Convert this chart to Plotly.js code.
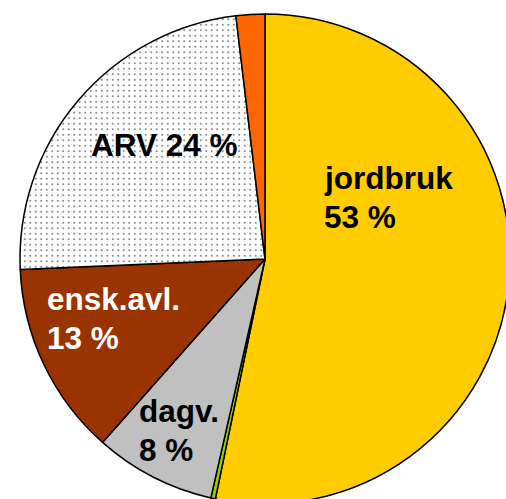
<!DOCTYPE html>
<html>
<head>
<meta charset="utf-8">
<script src="https://cdn.plot.ly/plotly-3.0.1.min.js"></script>
<style>
html,body{margin:0;padding:0;overflow:hidden;background:#fff;width:506px;height:499px;}
#chart{width:530px;height:520px;}
</style>
</head>
<body>
<div id="chart"></div>
<script>
// Data
const categories = ["jordbruk", "övrigt", "dagv.", "ensk.avl.", "ARV", "annat"];
const shares = [53.3, 0.3, 8.0, 12.8, 23.8, 1.9];
const sliceColors = ["#FFCC00", "#99CC00", "#C0C0C0", "#993300", "#FFFFFF", "#FF6600"];
const slicePatterns = ["", "", "", "", ".", ""];
const labelLines = [
  ["jordbruk", "53 %"],
  ["ARV 24 %"],
  ["ensk.avl.", "13 %"],
  ["dagv.", "8 %"]
];
const labelColors = ["#000000", "#000000", "#FFFFFF", "#000000"];

// Layout geometry (pixels)
const W = 530, H = 520, mL = 20, mR = 20, mT = 14, mB = 16;
const pw = W - mL - mR, ph = H - mT - mB;
const px2x = p => (p - mL) / pw;
const py2y = p => (H - mB - p) / ph;

// label anchor positions (left x, line centres y) in pixels
const labelPos = [
  {x: 322, y: [178, 217]},
  {x: 89, y: [145]},
  {x: 45, y: [299, 338]},
  {x: 137, y: [411, 450]}
];

const annotations = [];
labelLines.forEach((lines, i) => {
  lines.forEach((t, j) => {
    annotations.push({
      text: "<b>" + t + "</b>",
      xref: "paper", yref: "paper",
      x: px2x(labelPos[i].x), y: py2y(labelPos[i].y[j]),
      xanchor: "left", yanchor: "middle",
      showarrow: false,
      font: {family: "Liberation Sans, Arial, sans-serif", size: 31.5, color: labelColors[i]}
    });
  });
});

Plotly.newPlot("chart", [{
  type: "pie",
  labels: categories,
  values: shares,
  sort: false,
  direction: "clockwise",
  rotation: 0,
  textinfo: "none",
  hoverinfo: "label+percent",
  marker: {
    colors: sliceColors,
    line: {color: "#000000", width: 1.5},
    pattern: {shape: slicePatterns, fgcolor: "#000000", bgcolor: sliceColors, size: 5.5, solidity: 0.06, fillmode: "replace"}
  },
  showlegend: false
}], {
  width: W, height: H,
  margin: {l: mL, r: mR, t: mT, b: mB},
  paper_bgcolor: "#FFFFFF",
  showlegend: false,
  annotations: annotations
}, {displayModeBar: false, staticPlot: true});
</script>
</body>
</html>
